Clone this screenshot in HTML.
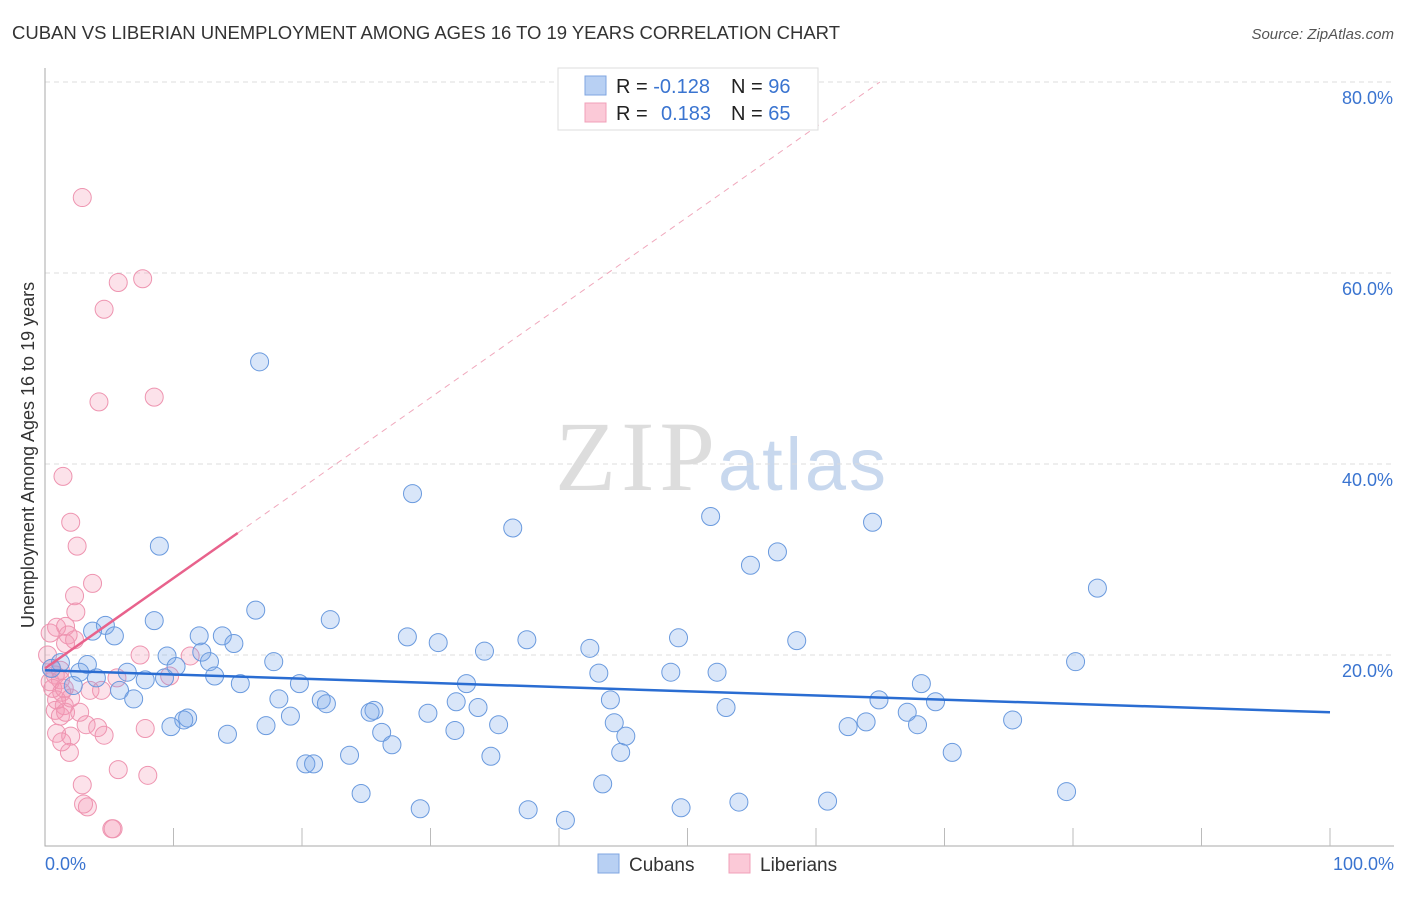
<!DOCTYPE html>
<html><head><meta charset="utf-8"><style>
body{margin:0;background:#fff;font-family:"Liberation Sans",sans-serif}
svg text{font-family:"Liberation Sans",sans-serif}
</style></head><body>
<svg id="c" width="1406" height="892">
<text x="12" y="39" font-size="18.5" fill="#333" textLength="828">CUBAN VS LIBERIAN UNEMPLOYMENT AMONG AGES 16 TO 19 YEARS CORRELATION CHART</text>
<text x="1394" y="39" font-size="15" fill="#555" font-style="italic" text-anchor="end">Source: ZipAtlas.com</text>
<text x="555" y="490" font-size="100" fill="#ddd" textLength="160" style="font-family:'Liberation Serif',serif">ZIP</text>
<text x="718" y="490" font-size="74" fill="#c8d8ee" textLength="168">atlas</text>
<g id="grid"></g><g id="pts"></g><g id="lines"></g>
<text transform="translate(34,455) rotate(-90)" font-size="18" fill="#333" text-anchor="middle">Unemployment Among Ages 16 to 19 years</text>
<text x="45" y="870" font-size="18" fill="#3a74d0">0.0%</text>
<text x="1394" y="870" font-size="18" fill="#3a74d0" text-anchor="end">100.0%</text>
<g>
<rect x="558" y="68" width="260" height="62" fill="#fff" stroke="#ddd"/>
<rect x="585" y="76" width="21" height="19" fill="#b8d0f3" stroke="#7fa6e0"/>
<rect x="585" y="103" width="21" height="19" fill="#fbc9d7" stroke="#f0a0b8"/>
<text x="616" y="93" font-size="20" fill="#222">R = <tspan fill="#3a74d0">-0.128</tspan><tspan x="731">N = </tspan><tspan fill="#3a74d0">96</tspan></text>
<text x="616" y="120" font-size="20" fill="#222">R = <tspan x="661" fill="#3a74d0">0.183</tspan><tspan x="731">N = </tspan><tspan fill="#3a74d0">65</tspan></text>
</g>
<g>
<rect x="598" y="854" width="21" height="19" fill="#b8d0f3" stroke="#7fa6e0"/>
<text x="629" y="871" font-size="19" fill="#333">Cubans</text>
<rect x="729" y="854" width="21" height="19" fill="#fbc9d7" stroke="#f0a0b8"/>
<text x="760" y="871" font-size="19" fill="#333">Liberians</text>
</g>
</svg>
<script>
const yTicks=[20,40,60,80];
const yTickLabels=["20.0%","40.0%","60.0%","80.0%"];
const cubanX=[16.7,28.6,36.4,51.8,64.4,57.0,54.9,81.9,8.9,16.4,22.2,8.5,4.7,3.7,5.4,12.0,13.8,14.7,28.2,30.6,37.5,49.3,58.5,42.4,34.2,9.5,12.2,12.8,17.8,80.2,3.3,1.2,0.5,6.4,10.2,2.7,4.0,7.8,9.3,13.2,43.1,48.7,52.3,15.2,19.8,32.8,68.2,5.8,2.2,6.9,18.2,21.5,21.9,44.0,64.9,69.3,32.0,25.6,25.3,33.7,53.0,67.1,19.1,29.8,75.3,11.1,10.8,44.3,35.3,63.9,62.5,67.9,17.2,9.8,31.9,26.2,14.2,45.2,27.0,44.8,70.6,23.7,34.7,20.3,20.9,43.4,24.6,79.5,54.0,60.9,29.2,37.6,49.5,40.5];
const cubanY=[50.7,36.9,33.3,34.5,33.9,30.8,29.4,27.0,31.4,24.7,23.7,23.6,23.1,22.5,22.0,22.0,22.0,21.2,21.9,21.3,21.6,21.8,21.5,20.7,20.4,19.9,20.3,19.3,19.3,19.3,19.0,19.2,18.6,18.2,18.8,18.2,17.6,17.4,17.6,17.8,18.1,18.2,18.2,17.0,17.0,17.0,17.0,16.3,16.8,15.4,15.4,15.3,14.9,15.3,15.3,15.1,15.1,14.2,14.0,14.5,14.5,14.0,13.6,13.9,13.2,13.4,13.2,12.9,12.7,13.0,12.5,12.7,12.6,12.5,12.1,11.9,11.7,11.5,10.6,9.8,9.8,9.5,9.4,8.6,8.6,6.5,5.5,5.7,4.6,4.7,3.9,3.8,4.0,2.7];
const liberianX=[2.9,5.7,7.6,4.6,4.2,8.5,1.4,2.0,2.5,3.7,2.3,2.4,0.4,0.9,1.6,1.8,2.3,1.6,7.4,11.3,0.2,0.5,0.8,0.4,1.2,0.6,1.3,0.9,1.5,0.8,1.2,1.6,5.6,9.7,3.5,4.4,2.0,2.7,3.2,4.1,4.6,7.8,0.9,2.0,1.3,1.9,5.7,8.0,2.9,3.0,3.3,5.2,5.3,1.2,1.5];
const liberianY=[67.9,59.0,59.4,56.2,46.5,47.0,38.7,33.9,31.4,27.5,26.2,24.5,22.3,22.9,23.0,22.1,21.6,21.2,20.0,19.9,20.0,18.6,17.9,17.2,17.4,16.5,16.1,15.3,14.7,14.2,13.6,14.0,17.6,17.8,16.3,16.3,15.5,14.0,12.7,12.4,11.6,12.3,11.8,11.5,10.9,9.8,8.0,7.4,6.4,4.4,4.1,1.8,1.8,18.4,16.5];
const cubanTrend=[18.4,14.0];
const liberianTrend=[18.6,0.945];
const NS="http://www.w3.org/2000/svg";
const sx=v=>45+v*12.85, sy=v=>846-v*9.55;
function mk(t,a,p){const e=document.createElementNS(NS,t);for(const k in a)e.setAttribute(k,a[k]);p.appendChild(e);return e;}
const g=document.getElementById('grid');
yTicks.forEach((t,i)=>{
 const l=mk('line',{x1:45,x2:1394,y1:sy(t),y2:sy(t),stroke:'#ddd','stroke-dasharray':'5,4'},g);
 
 
 const tx=mk('text',{x:1393,y:sy(t)+22,'font-size':18,fill:'#3a74d0','text-anchor':'end'},g);
 tx.textContent=yTickLabels[i];
 
 
});
const ax=mk('path',{d:'M45 68V846H1394',stroke:'#aaa',fill:'none'},g);


for(let i=1;i<=10;i++){const t=mk('line',{x1:sx(i*10),x2:sx(i*10),y1:846,y2:828,stroke:'#bbb'},g);
 
 }
const P=document.getElementById('pts');
liberianX.forEach((x,i)=>{const c=mk('circle',{cx:sx(x),cy:sy(liberianY[i]),r:9,fill:'rgba(245,150,180,0.28)',stroke:'#ee94b0','stroke-width':1},P);
 
 });
cubanX.forEach((x,i)=>{const c=mk('circle',{cx:sx(x),cy:sy(cubanY[i]),r:9,fill:'rgba(120,165,235,0.28)',stroke:'#6a9ade','stroke-width':1},P);
 
 });
const L=document.getElementById('lines');
const b=mk('line',{x1:sx(0),y1:sy(cubanTrend[0]),x2:sx(100),y2:sy(cubanTrend[1]),stroke:'#2a6dd2','stroke-width':2.5},L);


const f=x=>liberianTrend[0]+liberianTrend[1]*x;
const xEnd=(80-liberianTrend[0])/liberianTrend[1];
const d=mk('line',{x1:sx(15),y1:sy(f(15)),x2:sx(xEnd),y2:sy(80),stroke:'#f0a8bc','stroke-width':1,'stroke-dasharray':'6,5'},L);


const p=mk('line',{x1:sx(0),y1:sy(f(0)),x2:sx(15),y2:sy(f(15)),stroke:'#e8628c','stroke-width':2.5},L);


</script>
</body></html>
